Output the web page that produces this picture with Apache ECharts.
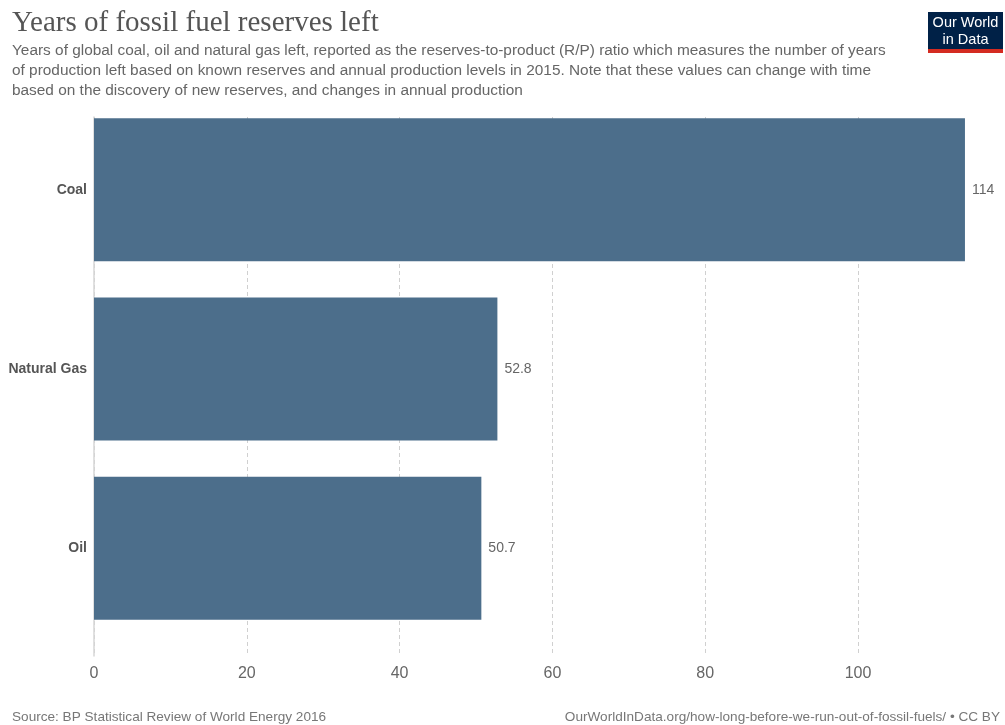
<!DOCTYPE html>
<html>
<head>
<meta charset="utf-8">
<script src="https://cdn.jsdelivr.net/npm/echarts@6/dist/echarts.min.js"></script>
<style>
html,body{margin:0;padding:0;background:#fff;}
#chart{width:1005px;height:725px;}
</style>
</head>
<body>
<div id="chart"></div>
<script>
const categories = ['Coal', 'Natural Gas', 'Oil'];
const values = [114, 52.8, 50.7];
const xTicks = [0, 20, 40, 60, 80, 100];

const titleText = 'Years of fossil fuel reserves left';
const subtitleText = 'Years of global coal, oil and natural gas left, reported as the reserves-to-product (R/P) ratio which measures the number of years\nof production left based on known reserves and annual production levels in 2015. Note that these values can change with time\nbased on the discovery of new reserves, and changes in annual production';
const sourceText = 'Source: BP Statistical Review of World Energy 2016';
const urlText = 'OurWorldInData.org/how-long-before-we-run-out-of-fossil-fuels/ • CC BY';

const chart = echarts.init(document.getElementById('chart'), null, {renderer: 'canvas'});
const pxPerUnit = 7.64;
const FONT = 'Liberation Sans, Arial, sans-serif';
const gridColors = xTicks.map(() => '#d0d0d0').concat(['rgba(0,0,0,0)']);

chart.setOption({
  backgroundColor: '#fff',
  animation: false,
  title: [
    {text: titleText, left: 12, top: 9, padding: 0,
     textStyle: {fontFamily: 'Liberation Serif, Times New Roman, serif', fontSize: 29, fontWeight: 'normal', color: '#555'}},
    {text: subtitleText, left: 12, top: 41, padding: 0,
     textStyle: {fontFamily: FONT, fontSize: 15.4, fontWeight: 'normal', color: '#666', lineHeight: 20}},
    {text: sourceText, left: 12, top: 710, padding: 0,
     textStyle: {fontFamily: FONT, fontSize: 13.6, fontWeight: 'normal', color: '#777'}},
    {text: urlText, right: 5, top: 710, padding: 0,
     textStyle: {fontFamily: FONT, fontSize: 13.6, fontWeight: 'normal', color: '#777'}}
  ],
  graphic: [
    {type: 'rect', shape: {x: 928, y: 12, width: 75, height: 37}, style: {fill: '#002147'}},
    {type: 'rect', shape: {x: 928, y: 49, width: 75, height: 4}, style: {fill: '#d42b21'}},
    {type: 'text', x: 965.5, y: 14, style: {text: 'Our World\nin Data', fill: '#fff', font: '14.5px ' + FONT, textAlign: 'center', lineHeight: 17}}
  ],
  grid: [
    {left: 94, top: 100, width: 114 * pxPerUnit, height: 538},
    {left: 94, top: 117, width: 114 * pxPerUnit, height: 539}
  ],
  xAxis: [
    {gridIndex: 0, type: 'value', min: 0, max: 114, show: false},
    {gridIndex: 1, type: 'value', min: 0, max: 114, interval: 20,
     axisLine: {show: false}, axisTick: {show: false},
     axisLabel: {margin: 10, fontFamily: FONT, fontSize: 16, color: '#666',
       formatter: v => xTicks.indexOf(v) >= 0 ? String(v) : ''},
     splitLine: {show: true, lineStyle: {type: [4, 3], color: gridColors, width: 1}}}
  ],
  yAxis: [
    {gridIndex: 0, type: 'category', data: categories, inverse: true,
     axisLine: {show: false}, axisTick: {show: false},
     axisLabel: {margin: 7, fontFamily: FONT, fontSize: 14, fontWeight: 'bold', color: '#555'}},
    {gridIndex: 1, type: 'value', min: 0, max: 1, axisLabel: {show: false}, axisTick: {show: false},
     splitLine: {show: false}, axisLine: {show: true, lineStyle: {color: '#d6d6d6', width: 1.5}}}
  ],
  series: [{
    type: 'bar', xAxisIndex: 0, yAxisIndex: 0,
    data: values, barWidth: 143,
    itemStyle: {color: '#4C6E8B'},
    label: {show: true, position: 'right', distance: 7, fontFamily: FONT, fontSize: 14, color: '#666'},
    z: 5
  }]
});
</script>
</body>
</html>
